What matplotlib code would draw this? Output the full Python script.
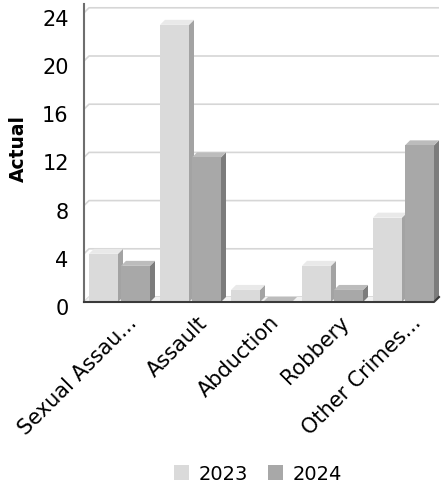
import matplotlib
matplotlib.use("Agg")
import matplotlib.pyplot as plt
import matplotlib.transforms as mtransforms
from matplotlib.patches import Polygon, Patch

# data
categories = ["Sexual Assau...", "Assault", "Abduction", "Robbery", "Other Crimes..."]
years = ["2023", "2024"]
values_2023 = [4, 23, 1, 3, 7]
values_2024 = [3, 12, 0, 1, 13]
yticks = [0, 4, 8, 12, 16, 20, 24]

front_cols = ["#dadada", "#a8a8a8"]
side_cols = ["#a3a3a3", "#7c7c7c"]
top_cols = ["#e9e9e9", "#bcbcbc"]

W, H = 441, 489
fig = plt.figure(figsize=(W / 100, H / 100), dpi=100)
# plot area in pixels: x 84..439, y 303 (zero, front) .. 5
ax = fig.add_axes([84 / W, (H - 303) / H, 355 / W, 298 / H])
px_per_unit = 12.05
ymax = 298 / px_per_unit
ax.set_xlim(0, 5)
ax.set_ylim(0, ymax)
for s in ax.spines.values():
    s.set_visible(False)

dx = 5 / 71.0            # depth offset in x (data units)
dy = 5 / px_per_unit     # depth offset in y (data units)

# back wall gridlines
for v in yticks:
    ax.plot([0, dx, 5], [v, v + dy, v + dy], color="#d6d6d6", lw=1.2, zorder=1,
            clip_on=False, solid_capstyle="butt")

# floor
ax.add_patch(Polygon([[0, 0], [5 - dx, 0], [5, dy], [dx, dy]], closed=True,
                     facecolor="#f2f2f2", edgecolor="none", zorder=1.5, clip_on=False))

bw = 29 / 71.0
offs = [5 / 71.0, 37 / 71.0]
series = [values_2023, values_2024]
for k, vals in enumerate(series):
    for i, v in enumerate(vals):
        x0 = i + offs[k]
        x1 = x0 + bw
        # side face
        ax.add_patch(Polygon([[x1, 0], [x1 + dx, dy], [x1 + dx, v + dy], [x1, v]],
                             facecolor=side_cols[k], edgecolor="none", zorder=3, clip_on=False))
        # top face
        ax.add_patch(Polygon([[x0, v], [x1, v], [x1 + dx, v + dy], [x0 + dx, v + dy]],
                             facecolor=top_cols[k], edgecolor="none", zorder=3, clip_on=False))
        # front face
        ax.add_patch(Polygon([[x0, 0], [x1, 0], [x1, v], [x0, v]],
                             facecolor=front_cols[k], edgecolor="none", zorder=4, clip_on=False))

# axis lines
ax.plot([0, 0], [0, ymax], color="#6e6e6e", lw=1.5, zorder=5, clip_on=False)
ax.plot([0, 5 - dx, 5], [0, 0, dy], color="#3a3a3a", lw=1.5, zorder=5, clip_on=False)

ax.set_yticks(yticks)
ax.set_yticklabels([str(t) for t in yticks], fontsize=15)
ax.tick_params(axis="y", length=0, pad=11)
yshift = mtransforms.ScaledTranslation(0, -4 / 100, fig.dpi_scale_trans)
for lbl in ax.get_yticklabels():
    lbl.set_transform(lbl.get_transform() + yshift)

ax.set_xticks([i + 0.5 for i in range(len(categories))])
ax.set_xticklabels(categories, fontsize=15, rotation=45, ha="right",
                   rotation_mode="anchor")
ax.tick_params(axis="x", length=0, pad=4)
xshift = mtransforms.ScaledTranslation(7 / 100, -4 / 100, fig.dpi_scale_trans)
for lbl in ax.get_xticklabels():
    lbl.set_transform(lbl.get_transform() + xshift)

ax.set_ylabel("Actual", fontsize=13.5, fontweight="bold")
ax.yaxis.set_label_coords(-(84 - 28) / 355, 0.52)

handles = [Patch(facecolor=front_cols[k], edgecolor="none", label=years[k]) for k in range(2)]
fig.legend(handles=handles, loc="center", bbox_to_anchor=(258 / W, 1 - 475 / H),
           ncol=2, frameon=False, fontsize=14, handlelength=0.8, handleheight=0.8,
           handletextpad=0.5, columnspacing=1.0)

fig.savefig("out.png", dpi=100)
